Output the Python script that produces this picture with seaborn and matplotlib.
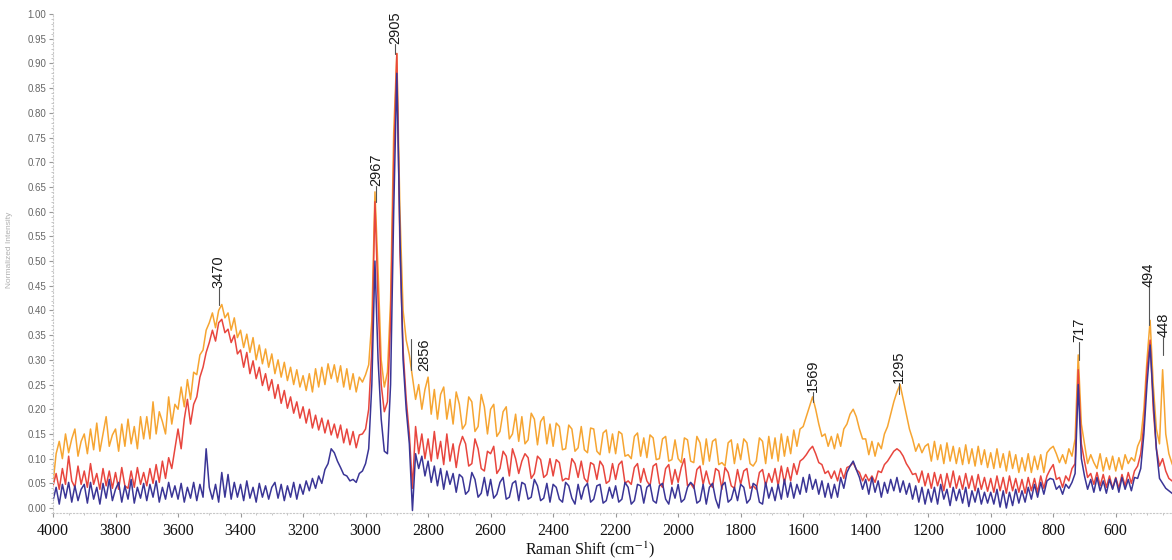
import numpy as np
import pandas as pd
import matplotlib
matplotlib.use("Agg")
import matplotlib.pyplot as plt
from matplotlib.ticker import MultipleLocator, FormatStrFormatter
import seaborn as sns

# ---------------- data (intensities x1000) ----------------
wavenumber = np.arange(4000, 400, -10)  # sampling grid 4000 ... 410 cm-1

orange_vals = [
    50, 110, 135, 100, 150, 112, 140, 160, 105, 135,
    150, 110, 160, 118, 172, 115, 150, 185, 125, 148,
    160, 115, 170, 125, 180, 130, 165, 120, 185, 140,
    185, 140, 215, 150, 195, 175, 150, 225, 170, 210,
    200, 245, 205, 260, 220, 275, 270, 310, 320, 360,
    375, 395, 365, 400, 412, 385, 395, 360, 385, 345,
    360, 325, 352, 315, 345, 300, 330, 292, 322, 285,
    312, 272, 300, 265, 295, 258, 285, 250, 280, 245,
    268, 238, 272, 235, 282, 245, 285, 250, 292, 262,
    290, 255, 288, 245, 282, 240, 272, 235, 265, 255,
    270, 290, 380, 640, 480, 300, 245, 275, 420, 760,
    920, 600, 400, 340, 310, 265, 220, 250, 200, 240,
    265, 190, 240, 180, 230, 245, 180, 220, 170, 235,
    210, 160, 170, 225, 215, 155, 165, 230, 205, 150,
    200, 210, 145, 155, 195, 205, 140, 150, 190, 135,
    185, 130, 138, 192, 180, 128, 175, 185, 130, 170,
    125, 172, 165, 118, 120, 168, 160, 115, 122, 165,
    118, 112, 162, 160, 115, 108, 152, 158, 112, 150,
    110, 155, 150, 105, 108, 100, 145, 152, 105, 142,
    102, 148, 142, 98, 100, 140, 145, 95, 98, 138,
    100, 92, 142, 138, 95, 92, 145, 132, 88, 140,
    95, 135, 140, 88, 92, 85, 132, 138, 90, 130,
    98, 140, 132, 90, 85, 95, 142, 135, 90, 145,
    100, 142, 95, 150, 105, 145, 110, 158, 125, 160,
    165, 185, 205, 225, 200, 170, 145, 150, 125, 145,
    120, 150, 125, 160, 170, 190, 200, 185, 160, 140,
    140, 108, 135, 105, 132, 120, 150, 165, 190, 215,
    235, 250, 220, 190, 160, 140, 115, 130, 112, 125,
    130, 95, 135, 98, 128, 90, 132, 95, 125, 90,
    122, 88, 128, 90, 120, 85, 125, 88, 118, 82,
    112, 80, 120, 82, 110, 75, 115, 80, 108, 72,
    102, 75, 110, 72, 105, 78, 108, 72, 112, 120,
    125, 110, 92, 108, 90, 120, 105, 140, 310, 170,
    130, 90, 108, 92, 80, 110, 75, 102, 78, 105,
    75, 102, 78, 108, 90, 102, 95, 125, 140, 200,
    300, 380, 250, 160, 130, 280, 150, 110, 90, 75,
]

red_vals = [
    45, 70, 38, 80, 48, 105, 55, 42, 85, 48,
    75, 42, 90, 48, 70, 38, 80, 45, 75, 40,
    72, 38, 82, 45, 40, 75, 42, 82, 48, 72,
    45, 80, 50, 88, 52, 95, 60, 102, 80, 120,
    160, 120, 180, 220, 170, 210, 225, 265, 285, 315,
    335, 360, 338, 375, 382, 355, 362, 335, 350, 312,
    320, 285, 315, 272, 298, 262, 285, 248, 272, 238,
    260, 222, 250, 212, 238, 202, 225, 192, 215, 182,
    205, 172, 200, 162, 188, 158, 182, 152, 178, 148,
    170, 142, 168, 132, 160, 128, 155, 122, 148, 150,
    160, 200, 320, 620, 420, 250, 195, 215, 380, 700,
    920, 520, 320, 220, 150, 40, 165, 110, 150, 100,
    140, 95, 155, 100, 135, 88, 150, 95, 130, 82,
    125, 145, 130, 85, 90, 140, 120, 80, 75, 115,
    110, 125, 70, 80, 115, 105, 65, 120, 100, 70,
    95, 110, 102, 60, 70, 105, 98, 62, 68, 100,
    65, 98, 92, 55, 60, 58, 100, 90, 62, 95,
    60, 52, 92, 88, 58, 95, 85, 50, 55, 90,
    58, 88, 95, 50, 55, 48, 82, 90, 52, 80,
    55, 45, 85, 90, 50, 42, 80, 88, 48, 78,
    52, 82, 100, 45, 50, 40, 78, 85, 48, 75,
    50, 42, 80, 75, 38, 82, 72, 45, 40, 78,
    48, 75, 80, 40, 45, 38, 72, 78, 45, 70,
    52, 80, 45, 85, 50, 82, 55, 90, 68, 95,
    100, 108, 118, 125, 110, 92, 88, 70, 75, 60,
    75, 55, 80, 60, 82, 85, 92, 78, 72, 55,
    68, 55, 65, 52, 75, 72, 88, 95, 105, 115,
    120, 115, 105, 90, 80, 68, 70, 52, 75, 45,
    70, 40, 72, 45, 68, 35, 70, 42, 75, 40,
    65, 38, 70, 40, 65, 35, 68, 38, 62, 34,
    60, 32, 65, 35, 62, 30, 65, 35, 60, 32,
    58, 30, 62, 35, 60, 32, 65, 40, 65, 78,
    88, 58, 62, 42, 65, 55, 80, 90, 280, 130,
    95, 62, 70, 48, 72, 45, 68, 42, 65, 40,
    62, 40, 68, 45, 72, 50, 75, 85, 110, 170,
    280, 340, 200, 120, 85, 100, 75, 60, 55, 50,
]

blue_vals = [
    15, 42, 8, 48, 20, 52, 12, 45, 15, 38,
    48, 10, 52, 18, 42, 8, 50, 20, 58, 15,
    38, 52, 12, 45, 18, 58, 10, 42, 20, 50,
    15, 48, 22, 55, 12, 42, 18, 52, 22, 45,
    18, 50, 12, 42, 20, 52, 15, 48, 22, 120,
    42, 18, 48, 12, 72, 22, 68, 18, 52, 22,
    48, 15, 55, 20, 42, 12, 50, 22, 45, 18,
    42, 52, 20, 48, 15, 45, 22, 52, 18, 48,
    28, 55, 35, 60, 40, 65, 50, 78, 90, 120,
    112, 95, 82, 68, 65, 55, 58, 52, 70, 75,
    90, 120, 250, 500, 300, 180, 115, 110, 250, 600,
    880, 550, 300, 200, 130, -5, 110, 80, 105, 65,
    95, 52, 85, 45, 80, 38, 75, 48, 70, 32,
    68, 62, 28, 35, 72, 58, 22, 30, 62, 25,
    58, 20, 28, 52, 62, 18, 22, 50, 55, 15,
    52, 48, 18, 22, 58, 45, 15, 20, 50, 12,
    48, 42, 18, 12, 52, 45, 20, 8, 48, 18,
    42, 50, 12, 18, 45, 48, 10, 15, 42, 20,
    45, 12, 18, 52, 42, 8, 15, 48, 45, 10,
    42, 48, 15, 10, 45, 50, 18, 8, 42, 20,
    48, 12, 18, 42, 52, 45, 10, 15, 48, 8,
    42, 50, 18, 0, 45, 52, 12, 18, 42, 15,
    48, 42, 10, 18, 50, 45, 12, 8, 52, 20,
    42, 15, 48, 18, 58, 22, 52, 20, 48, 28,
    62, 32, 68, 38, 58, 28, 55, 22, 50, 20,
    48, 22, 62, 40, 72, 85, 95, 78, 62, 38,
    58, 28, 62, 32, 55, 22, 52, 30, 58, 35,
    62, 32, 55, 28, 50, 18, 45, 12, 42, 8,
    38, 12, 42, 8, 48, 18, 38, 5, 42, 15,
    38, 10, 42, 3, 35, 12, 40, 8, 32, 10,
    32, 8, 38, 2, 35, 0, 32, 5, 38, 10,
    35, 12, 42, 18, 48, 22, 52, 28, 55, 60,
    58, 38, 45, 28, 48, 40, 52, 70, 250, 100,
    65, 38, 58, 32, 62, 35, 55, 30, 58, 38,
    60, 32, 62, 38, 58, 35, 62, 60, 80, 150,
    250, 330, 220, 120, 60, 50, 40, 35, 30, 25,
]

series_names = ["orange", "red", "blue"]
series_colors = ["#F6A532", "#E8463E", "#3A3596"]

peak_labels = ["3470", "2967", "2905", "2856", "1569", "1295", "717", "494", "448"]
peak_pos = [3470, 2967, 2905, 2856, 1569, 1295, 717, 494, 448]
line_bottom = [0.41, 0.62, 0.92, 0.28, 0.215, 0.23, 0.30, 0.37, 0.31]
line_top = [0.445, 0.652, 0.94, 0.342, 0.235, 0.253, 0.336, 0.447, 0.346]

xtick_vals = [4000, 3800, 3600, 3400, 3200, 3000, 2800, 2600, 2400, 2200,
              2000, 1800, 1600, 1400, 1200, 1000, 800, 600]

# ---------------- build frame ----------------
frames = []
for name, vals in zip(series_names, [orange_vals, red_vals, blue_vals]):
    frames.append(pd.DataFrame({"shift": wavenumber,
                                "intensity": np.array(vals) / 1000.0,
                                "series": name}))
df = pd.concat(frames, ignore_index=True)

# ---------------- plot ----------------
sns.set_style("white")
plt.rcParams["font.family"] = ["Liberation Sans", "DejaVu Sans"]
plt.rcParams["mathtext.fontset"] = "stix"

fig = plt.figure(figsize=(11.72, 5.6), dpi=100)
ax = fig.add_axes([53 / 1172, 1 - 513 / 560, 1 - 53 / 1172, (513 - 14) / 560])

sns.lineplot(data=df, x="shift", y="intensity", hue="series",
             hue_order=series_names, palette=series_colors,
             sort=False, estimator=None, legend=False, linewidth=1.1, ax=ax)

ax.set_xlim(4000, 420)
ax.set_ylim(-0.01, 1.0)

ax.set_xticks(xtick_vals)
ax.set_xticklabels([str(v) for v in xtick_vals], family="Liberation Serif",
                   fontsize=11.5, color="#111111")
ax.xaxis.set_minor_locator(MultipleLocator(50))
ax.yaxis.set_major_locator(MultipleLocator(0.05))
ax.yaxis.set_minor_locator(MultipleLocator(0.01))
ax.yaxis.set_major_formatter(FormatStrFormatter("%.2f"))
for lab in ax.get_yticklabels():
    lab.set_fontsize(7)
    lab.set_color("#666666")

ax.tick_params(axis="both", which="major", length=3, width=0.8, color="#999999",
               direction="out", bottom=True, left=True)
ax.tick_params(axis="both", which="minor", length=1.5, width=0.6, color="#bbbbbb",
               direction="out", bottom=True, left=True)
ax.tick_params(axis="x", which="major", pad=4)
ax.tick_params(axis="y", which="major", pad=2)

for side in ["top", "right"]:
    ax.spines[side].set_visible(False)
for side in ["left", "bottom"]:
    ax.spines[side].set_color("#c8c8c8")
    ax.spines[side].set_linestyle((0, (1, 2)))
    ax.spines[side].set_linewidth(0.8)

ax.set_xlabel("")
ax.set_ylabel("")
ax.grid(False)

# peak annotations
for lab, xp, yb, yt in zip(peak_labels, peak_pos, line_bottom, line_top):
    ax.plot([xp, xp], [yb, yt], color="#555555", linewidth=0.8, clip_on=False, zorder=4)
    if lab == "2856":
        ax.annotate(lab, xy=(xp, (yb + yt) / 2), xytext=(10, 0), textcoords="offset points",
                    rotation=90, ha="center", va="center", fontsize=10.5,
                    color="#1a1a1a", annotation_clip=False)
    else:
        ax.annotate(lab, xy=(xp, yt), xytext=(0, 0), textcoords="offset points",
                    rotation=90, ha="center", va="bottom", fontsize=10.5,
                    color="#1a1a1a", annotation_clip=False)

fig.text(590 / 1172, 1 - 550 / 560, r"Raman Shift (cm$^{-1}$)", ha="center", va="center",
         family="Liberation Serif", fontsize=11.5, color="#111111")
fig.text(10 / 1172, 1 - 250 / 560, "Normalized Intensity", rotation=90, ha="center",
         va="center", fontsize=6, color="#b0b0b0")

fig.savefig("out.png", dpi=100)
